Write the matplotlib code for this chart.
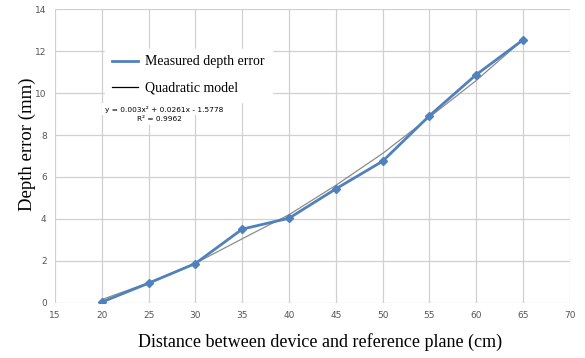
import matplotlib
matplotlib.use("Agg")
import matplotlib.pyplot as plt
from matplotlib.lines import Line2D

distance = [20, 25, 30, 35, 40, 45, 50, 55, 60, 65]
measured = [0.03, 0.93, 1.87, 3.51, 4.03, 5.43, 6.75, 8.92, 10.88, 12.54]
model = [0.15, 0.95, 1.88, 3.05, 4.2, 5.6, 7.12, 8.85, 10.6, 12.55]
xticks = [15, 20, 25, 30, 35, 40, 45, 50, 55, 60, 65, 70]
yticks = [0, 2, 4, 6, 8, 10, 12, 14]

serif = "Liberation Serif"

fig = plt.figure(figsize=(5.85, 3.58), dpi=100)
ax = fig.add_axes([0.094, 0.1545, 0.880, 0.8195])

ax.plot(distance, model, color="#8c8c8c", lw=0.9, zorder=3)
ax.plot(distance, measured, color="#4f81bd", lw=2.0, marker="D", ms=4.5,
        markerfacecolor="#4f81bd", markeredgecolor="#4f81bd", zorder=4)

ax.set_xlim(15, 70)
ax.set_ylim(0, 14)
ax.set_xticks(xticks)
ax.set_yticks(yticks)
ax.grid(True, color="#d0d0d0", lw=0.9)
ax.set_axisbelow(True)
for s in ax.spines.values():
    s.set_visible(False)
ax.tick_params(length=0, labelsize=6.5, labelcolor="#555555", pad=6)

ax.set_xlabel("Distance between device and reference plane (cm)",
              family=serif, fontsize=13)
ax.xaxis.set_label_coords(0.515, -0.105)
ax.set_ylabel("Depth error (mm)", family=serif, fontsize=13.5)
ax.yaxis.set_label_coords(-0.037, 0.54)

handles = [Line2D([], [], color="#4f81bd", lw=2.0),
           Line2D([], [], color="black", lw=0.9)]
leg = ax.legend(handles, ["Measured depth error", "Quadratic model"],
                loc="upper left", bbox_to_anchor=(0.0835, 0.89),
                prop={"family": serif, "size": 10},
                frameon=True, framealpha=1, edgecolor="white", facecolor="white",
                fancybox=False, handlelength=1.9, handletextpad=0.5,
                borderpad=0.5, labelspacing=0.95)
leg.set_zorder(5)

ax.text(0.097, 0.66, "y = 0.003x² + 0.0261x - 1.5778", transform=ax.transAxes,
        fontsize=5.3, ha="left", va="center", zorder=6,
        bbox=dict(facecolor="white", edgecolor="none", pad=2))
ax.text(0.159, 0.626, "R² = 0.9962", transform=ax.transAxes,
        fontsize=5.3, ha="left", va="center", zorder=6,
        bbox=dict(facecolor="white", edgecolor="none", pad=2))

fig.savefig("out.png", dpi=100, facecolor="white")
